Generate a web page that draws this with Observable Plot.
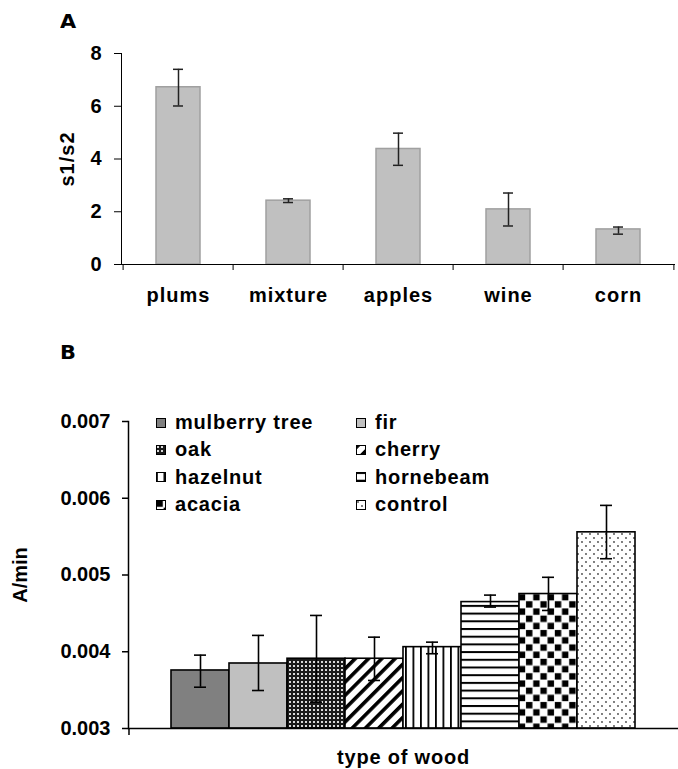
<!DOCTYPE html>
<html><head><meta charset="utf-8">
<script src="https://cdn.jsdelivr.net/npm/d3@7"></script>
<script src="https://cdn.jsdelivr.net/npm/@observablehq/plot@0.6"></script>
<style>
html,body{margin:0;padding:0;background:#fff;overflow:hidden;}
#root{position:relative;width:678px;height:769px;font-family:"Liberation Sans",Arial,sans-serif;font-weight:bold;color:#000;}
.panel{position:absolute;font-family:"DejaVu Sans",sans-serif;font-size:19px;line-height:1;transform:scaleX(1.1);transform-origin:left top;}
.legend{position:absolute;left:156px;top:409px;display:grid;grid-template-columns:200px 200px;grid-auto-rows:27.3px;font-size:20px;letter-spacing:0.8px;}
.item{display:flex;align-items:center;white-space:nowrap;}
.item svg{margin-right:9px;flex:none;}
</style></head><body>
<svg width="0" height="0" style="position:absolute">
<defs>
<pattern id="pat-oak" width="4" height="4" patternUnits="userSpaceOnUse"><rect width="4" height="4" fill="#1a1a1a"/><rect x="1" y="1" width="2" height="2" fill="#d9d9d9"/></pattern>
<pattern id="pat-cherry" width="9.4" height="9.4" patternUnits="userSpaceOnUse" patternTransform="rotate(45)"><rect width="9.4" height="9.4" fill="#fff"/><rect width="3.6" height="9.4" fill="#000"/></pattern>
<pattern id="pat-hazelnut" width="7.5" height="8" patternUnits="userSpaceOnUse"><rect width="7.5" height="8" fill="#fff"/><rect width="1.8" height="8" fill="#000"/></pattern>
<pattern id="pat-hornbeam" width="8" height="7.7" patternUnits="userSpaceOnUse"><rect width="8" height="7.7" fill="#fff"/><rect width="8" height="2" fill="#000"/></pattern>
<pattern id="pat-acacia" width="14.4" height="14.4" patternUnits="userSpaceOnUse"><rect width="14.4" height="14.4" fill="#fff"/><rect x="0.4" y="0.4" width="6.4" height="6.4" fill="#000"/><rect x="7.6" y="7.6" width="6.4" height="6.4" fill="#000"/></pattern>
<pattern id="pat-control" width="8" height="8" patternUnits="userSpaceOnUse"><rect width="8" height="8" fill="#fff"/><circle cx="2" cy="2" r="0.9" fill="#444"/><circle cx="6" cy="6" r="0.9" fill="#444"/></pattern>
</defs>
</svg>
<div id="root"></div>
<script>
// ---- Panel A data ----
const fruitCategories = ["plums", "mixture", "apples", "wine", "corn"];
const fruitValues = [6.72, 2.42, 4.38, 2.09, 1.33];
const fruitErrLow = [6.01, 2.35, 3.76, 1.46, 1.15];
const fruitErrHigh = [7.40, 2.49, 4.98, 2.71, 1.42];
const fruitTicks = [0, 2, 4, 6, 8];
const fruitYLabel = "s1/s2";

// ---- Panel B data ----
const woodTypes = ["mulberry tree", "fir", "oak", "cherry", "hazelnut", "hornebeam", "acacia", "control"];
const woodValues = [0.003756, 0.003847, 0.003909, 0.003909, 0.004060, 0.004647, 0.004752, 0.005556];
const woodErrLow = [0.003538, 0.003495, 0.003343, 0.003626, 0.003974, 0.004582, 0.004538, 0.005212];
const woodErrHigh = [0.003956, 0.004213, 0.004473, 0.004190, 0.004125, 0.004738, 0.004970, 0.005907];
const woodFills = ["#808080", "#c0c0c0", "url(#pat-oak)", "url(#pat-cherry)", "url(#pat-hazelnut)", "url(#pat-hornbeam)", "url(#pat-acacia)", "url(#pat-control)"];
const woodTicks = [0.003, 0.004, 0.005, 0.006, 0.007];
const woodYLabel = "A/min";
const woodXLabel = "type of wood";

const font = '"Liberation Sans", Arial, sans-serif';
const root = document.getElementById("root");

// ---- Panel A ----
const fruitData = fruitCategories.map((c, i) => ({c, v: fruitValues[i], lo: fruitErrLow[i], hi: fruitErrHigh[i]}));
const aW = 678, aH = 320, aML = 121, aMR = 3, aMT = 53, aMB = 56;
const aStep = (aW - aML - aMR) / fruitCategories.length;
const errA = {stroke: "#222", strokeWidth: 1.5};
const chartA = Plot.plot({
  width: aW, height: aH, marginLeft: aML, marginRight: aMR, marginTop: aMT, marginBottom: aMB,
  style: {fontFamily: font, fontSize: "20px", fontWeight: "bold", letterSpacing: "1px", color: "#000", background: "transparent", overflow: "visible"},
  x: {domain: fruitCategories, paddingInner: 0.6, paddingOuter: 0.3},
  y: {domain: [0, 8]},
  marks: [
    Plot.barY(fruitData, {x: "c", y: "v", fill: "#c0c0c0", stroke: "#a0a0a0", strokeWidth: 1.5}),
    Plot.ruleX(fruitData, {x: "c", y1: "lo", y2: "hi", ...errA}),
    Plot.tickY(fruitData, {x: "c", y: "lo", insetLeft: 17, insetRight: 17, ...errA}),
    Plot.tickY(fruitData, {x: "c", y: "hi", insetLeft: 17, insetRight: 17, ...errA}),
    Plot.axisY({ticks: fruitTicks, tickSize: 7, tickPadding: 12, label: fruitYLabel, labelAnchor: "center", labelOffset: 62, labelArrow: false}),
    Plot.axisX({tickSize: 0, tickPadding: 23, label: null}),
    Plot.axisX({tickSize: 6, tickFormat: () => "", dx: -aStep / 2, label: null}),
    Plot.axisX({ticks: [fruitCategories[fruitCategories.length - 1]], tickSize: 6, tickFormat: () => "", dx: aStep / 2, label: null}),
    Plot.frame({anchor: "left", stroke: "#000"}),
    Plot.ruleY([0], {stroke: "#000"})
  ]
});
root.appendChild(chartA);

// ---- Panel B ----
const woodData = woodTypes.map((name, i) => ({name, v: woodValues[i], lo: woodErrLow[i], hi: woodErrHigh[i], fill: woodFills[i]}));
const bW = 678, bH = 449, bML = 128, bMR = 0, bMT = 101, bMB = 41;
const bPadOuter = 0.73;
const bStep = (bW - bML - bMR) / (woodTypes.length + 2 * bPadOuter);
const yBase = woodTicks[0];
const errB = {stroke: "#000", strokeWidth: 1.6};
const chartB = Plot.plot({
  width: bW, height: bH, marginLeft: bML, marginRight: bMR, marginTop: bMT, marginBottom: bMB,
  style: {fontFamily: font, fontSize: "20px", fontWeight: "bold", color: "#000", background: "transparent", overflow: "visible"},
  x: {domain: woodTypes, paddingInner: 0, paddingOuter: bPadOuter},
  y: {domain: [woodTicks[0], woodTicks[woodTicks.length - 1]]},
  color: {type: "identity"},
  marks: [
    Plot.barY(woodData, {x: "name", y1: yBase, y2: "v", fill: "fill", stroke: "#000", strokeWidth: 1.6}),
    Plot.ruleX(woodData, {x: "name", y1: "lo", y2: "hi", ...errB}),
    Plot.tickY(woodData, {x: "name", y: "lo", insetLeft: 23, insetRight: 23, ...errB}),
    Plot.tickY(woodData, {x: "name", y: "hi", insetLeft: 23, insetRight: 23, ...errB}),
    Plot.axisY({ticks: woodTicks, tickFormat: d3.format(".3f"), tickSize: 6, tickPadding: 12, strokeWidth: 1.5, label: woodYLabel, labelAnchor: "center", labelOffset: 116, labelArrow: false}),
    Plot.axisX({ticks: [woodTypes[0]], tickSize: 7, tickFormat: () => "", dx: -(bPadOuter + 0.5) * bStep, strokeWidth: 1.5, label: null}),
    Plot.frame({anchor: "left", stroke: "#000", strokeWidth: 1.5}),
    Plot.ruleY([yBase], {stroke: "#000", strokeWidth: 1.5}),
    Plot.text([woodXLabel], {text: d => d, frameAnchor: "bottom", lineAnchor: "top", dy: 21, fontSize: 20})
  ]
});
chartB.querySelectorAll("text").forEach(t => { if (t.textContent === woodXLabel) t.style.letterSpacing = "0.8px"; });
root.appendChild(chartB);

// ---- Panel letters ----
for (const [letter, top] of [["A", 12], ["B", 343]]) {
  const d = document.createElement("div");
  d.className = "panel";
  d.style.left = "60px";
  d.style.top = top + "px";
  d.textContent = letter;
  root.appendChild(d);
}

// ---- Legend ----
const legend = d3.select(root).append("div").attr("class", "legend");
woodTypes.forEach((name, i) => {
  const item = legend.append("div").attr("class", "item");
  const sw = item.append("svg").attr("width", 10).attr("height", 10);
  sw.append("rect").attr("x", 0.5).attr("y", 0.5).attr("width", 9).attr("height", 9)
    .attr("fill", woodFills[i]).attr("stroke", "#000").attr("stroke-width", 1);
  item.append("span").text(name);
});
</script>
</body></html>
